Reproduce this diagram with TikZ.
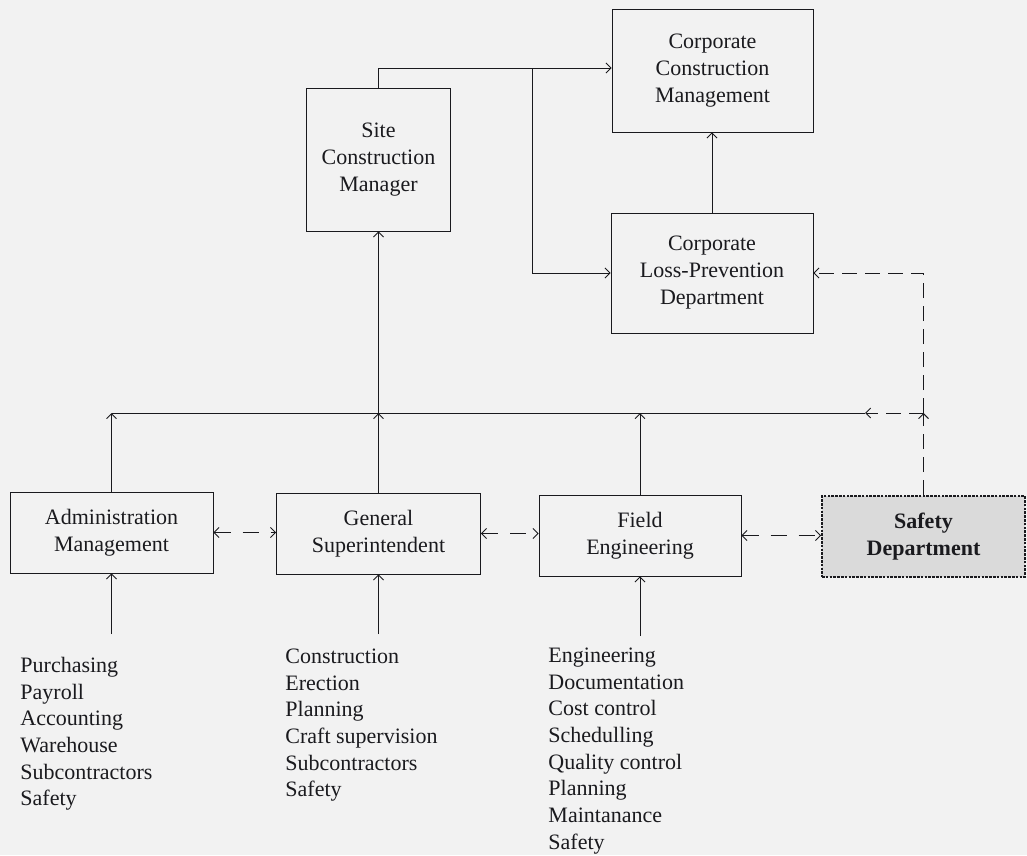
\documentclass[tikz,border=0pt]{standalone}
\usepackage{fontspec}
\setmainfont{Liberation Serif}
\usetikzlibrary{arrows.meta}
\definecolor{ink}{HTML}{1A1A1E}
\definecolor{paper}{HTML}{F2F2F2}
\definecolor{shade}{HTML}{DADADA}
\begin{document}
\begin{tikzpicture}[x=1pt,y=-1pt,
  line width=0.9pt, draw=ink, text=ink,
  >={Straight Barb[length=5pt,width=10pt]},
  box/.style={draw=ink, line width=0.9pt, align=center, inner sep=0pt,
    font=\fontsize{22}{27}\selectfont},
  safetybox/.style={box, fill=shade, line width=1.8pt, dash pattern=on 2.6pt off 1.2pt,
    font=\fontsize{22}{27}\selectfont\bfseries},
  itemlist/.style={align=left, anchor=north west, inner sep=0pt,
    font=\fontsize{22}{26.7}\selectfont},
  conn/.style={draw=ink, line width=0.9pt},
  dconn/.style={conn, dash pattern=on 15pt off 8pt},
  dpair/.style={conn, dash pattern=on 16pt off 12pt}
]
\fill[paper] (0,0) rectangle (1027,855);
\useasboundingbox (0,0) rectangle (1027,855);

% boxes
\node[box, minimum width=144, minimum height=143] (site) at (378.5,159.5) {Site\\Construction\\Manager};
\node[box, minimum width=201, minimum height=123] (ccm) at (712.5,70.5) {Corporate\\Construction\\Management};
\node[box, minimum width=202, minimum height=120] (clp) at (712,273) {Corporate\\Loss-Prevention\\Department};
\node[box, minimum width=203, minimum height=81] (admin) at (111.5,532.5) {Administration\\Management};
\node[box, minimum width=204, minimum height=81] (gs) at (378.5,533.5) {General\\Superintendent};
\node[box, minimum width=202, minimum height=81] (fe) at (640,535.5) {Field\\Engineering};
\node[safetybox, minimum width=203, minimum height=81] (safety) at (923.5,536.5) {Safety\\Department};

% lists
\node[itemlist] (adminlist) at (20,653.3) {\strut Purchasing\\Payroll\\Accounting\\Warehouse\\Subcontractors\\Safety};
\node[itemlist] (gslist) at (285,644.3) {\strut Construction\\Erection\\Planning\\Craft supervision\\Subcontractors\\Safety};
\node[itemlist] (felist) at (548,643.3) {\strut Engineering\\Documentation\\Cost control\\Schedulling\\Quality control\\Planning\\Maintanance\\Safety};

% junction coordinates
\coordinate (tl) at (378.5,68);
\coordinate (tb) at (532,68);
\coordinate (hl) at (111.5,413);
\coordinate (hr) at (865,413);
\coordinate (sj) at (923.5,413);
\coordinate (adminfoot) at (111.5,634);
\coordinate (gsfoot) at (378.5,634);
\coordinate (fefoot) at (640,636);

% top connectors
\draw[conn,->] (site.north) -- (tl) -- (tl -| ccm.west);
\draw[conn,->] (tb) |- (clp.west);
\draw[conn,->] (clp.north) -- (clp.north |- ccm.south);

% safety department links
\draw[dconn,->] (safety.north) -- (sj);
\draw[dconn,->] (sj) |- (clp.east);
\draw[dconn,->] (sj) -- (hr);

% horizontal collector
\draw[conn] (hl) -- (hr);
\draw[conn,->] (admin.north) -- (hl);
\draw[conn,->] (gs.north) -- (gs.north |- hl);
\draw[conn,->] (gs.north |- hl) -- (site.south);
\draw[conn,->] (fe.north) -- (fe.north |- hl);

% lateral dashed links
\draw[dpair,<->] (admin.east) -- (admin.east -| gs.west);
\draw[dpair,<->] (gs.east) -- (gs.east -| fe.west);
\draw[dpair,<->] (fe.east) -- (fe.east -| safety.west);

% list links
\draw[conn,->] (adminfoot) -- (admin.south);
\draw[conn,->] (gsfoot) -- (gs.south);
\draw[conn,->] (fefoot) -- (fe.south);
\end{tikzpicture}
\end{document}
